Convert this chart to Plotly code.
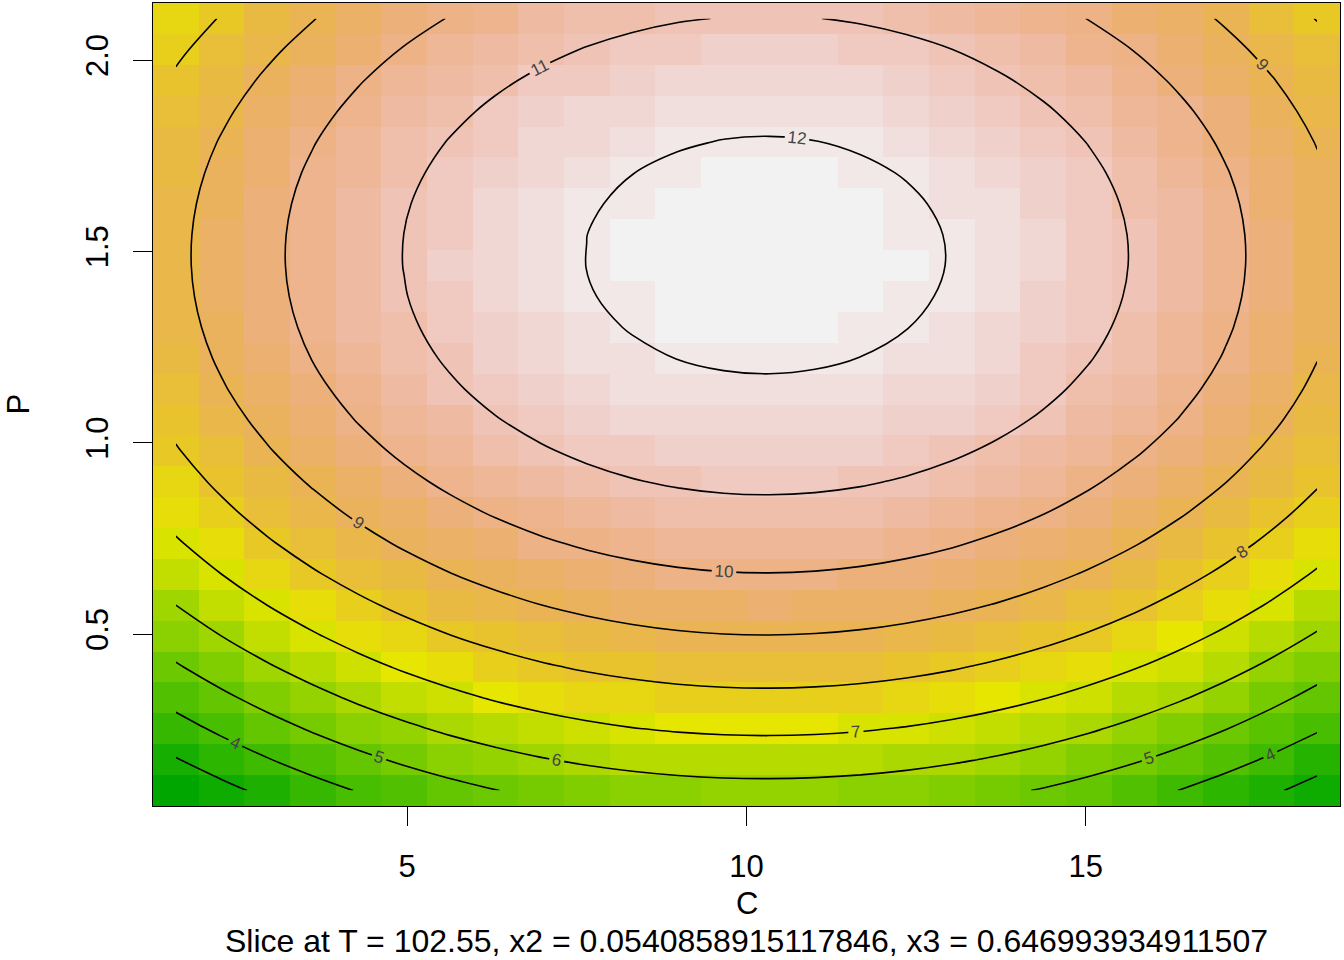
import colorsys
import numpy as np
import plotly.graph_objects as go

# ---- data (fitted second-order response surface slice) ----
C_range = [1.59, 18.41]          # grid bounds for C
P_range = [0.091, 2.109]         # grid bounds for P
grid_n = 26
peak_value = 12.33               # stationary (max) response
peak_C = 10.28
peak_P = 1.49
curv_C = 0.0464                  # curvature along C
curv_P = 3.38                    # curvature along P
contour_levels = [3, 4, 5, 6, 7, 8, 9, 10, 11, 12]
x_ticks = [5, 10, 15]
y_ticks = [0.5, 1.0, 1.5, 2.0]
y_ticklabels = ["0.5", "1.0", "1.5", "2.0"]
subtitle = "Slice at T = 102.55, x2 = 0.0540858915117846, x3 = 0.646993934911507"

C = np.linspace(C_range[0], C_range[1], grid_n)
P = np.linspace(P_range[0], P_range[1], grid_n)
CC, PP = np.meshgrid(C, P)
Z = peak_value - curv_C * (CC - peak_C) ** 2 - curv_P * (PP - peak_P) ** 2


# ---- R terrain.colors(50) ----
def terrain_colors(n):
    k = n // 2
    cols = []
    h1 = np.linspace(4 / 12, 2 / 12, k)
    v1 = np.linspace(0.65, 0.9, k)
    for h, v in zip(h1, v1):
        cols.append(colorsys.hsv_to_rgb(h, 1.0, v))
    m = n - k + 1
    h2 = np.linspace(2 / 12, 0, m)[1:]
    s2 = np.linspace(1, 0, m)[1:]
    v2 = np.linspace(0.9, 0.95, m)[1:]
    for h, s, v in zip(h2, s2, v2):
        cols.append(colorsys.hsv_to_rgb(h, s, v))
    return ["rgb(%d,%d,%d)" % tuple(round(c * 255) for c in rgb) for rgb in cols]


cols = terrain_colors(50)
ncol = len(cols)
cscale = []
for i, c in enumerate(cols):
    cscale.append([i / ncol, c])
    cscale.append([(i + 1) / ncol, c])

dx = (C[1] - C[0]) / 2
dy = (P[1] - P[0]) / 2
FONT = "Liberation Sans, Arial, sans-serif"
FS = 31

fig = go.Figure()
fig.add_trace(go.Heatmap(
    x=C, y=P, z=Z, colorscale=cscale, zmin=Z.min(), zmax=Z.max(),
    showscale=False, zsmooth=False, hoverinfo="skip"))
fig.add_trace(go.Contour(
    x=C, y=P, z=Z, showscale=False,
    contours=dict(start=contour_levels[0], end=contour_levels[-1], size=1,
                  coloring="none", showlabels=True,
                  labelfont=dict(size=17, color="#444444", family=FONT)),
    line=dict(color="black", width=1.6), hoverinfo="skip"))

fig.update_layout(
    width=1344, height=960,
    margin=dict(l=153, r=4, t=3, b=154),
    paper_bgcolor="white", plot_bgcolor="white",
    showlegend=False,
    font=dict(family=FONT, size=FS, color="black"),
    xaxis=dict(range=[C[0] - dx, C[-1] + dx], tickvals=x_ticks,
               ticks="outside", ticklen=19, tickwidth=1.3, tickcolor="black",
               showline=True, mirror=True, linecolor="black", linewidth=1.3,
               showgrid=False, zeroline=False, ticklabelstandoff=14,
               tickfont=dict(size=FS)),
    yaxis=dict(range=[P[0] - dy, P[-1] + dy], tickvals=y_ticks, ticktext=y_ticklabels,
               ticks="outside", ticklen=19, tickwidth=1.3, tickcolor="black",
               showline=True, mirror=True, linecolor="black", linewidth=1.3,
               showgrid=False, zeroline=False, tickangle=-90, ticklabelstandoff=12,
               tickfont=dict(size=FS)),
    annotations=[
        dict(text="C", xref="paper", yref="paper", x=0.5, y=(806 - 903) / 803,
             showarrow=False, xanchor="center", yanchor="middle", font=dict(size=FS)),
        dict(text="P", xref="paper", yref="paper", x=(18 - 153) / 1187, y=0.5,
             showarrow=False, xanchor="center", yanchor="middle", textangle=-90,
             font=dict(size=FS)),
        dict(text=subtitle, xref="paper", yref="paper", x=0.5, y=(806 - 941) / 803,
             showarrow=False, xanchor="center", yanchor="middle", font=dict(size=32)),
    ],
)

fig.write_html("out.html", config={"displayModeBar": False},
               post_script="document.body.style.margin='0px';document.body.style.overflow='hidden';")
